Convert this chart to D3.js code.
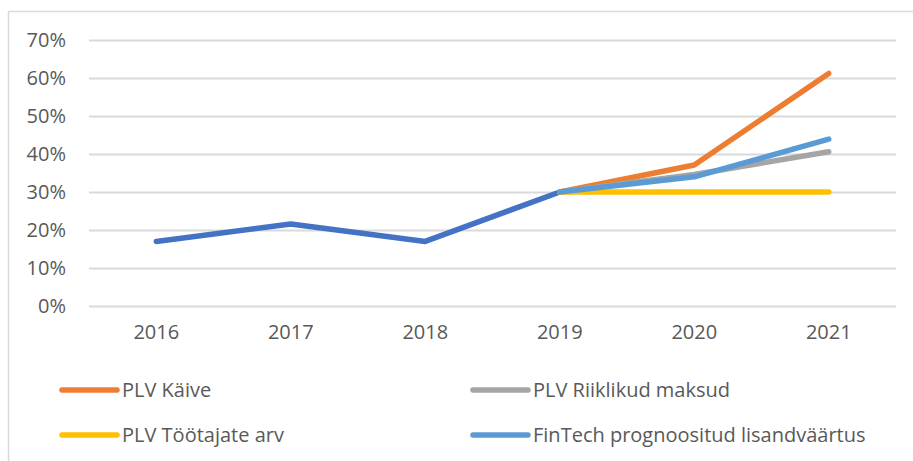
<!DOCTYPE html>
<html>
<head>
<meta charset="utf-8">
<script src="https://cdn.jsdelivr.net/npm/d3@7"></script>
<style>
  body { margin: 0; background: #fff; }
  text { font-family: "Open Sans", sans-serif; fill: #595959; }
</style>
</head>
<body>
<div id="chart"></div>
<script>
// chart data
const years = ["2016", "2017", "2018", "2019", "2020", "2021"];
const yTicks = [0, 0.1, 0.2, 0.3, 0.4, 0.5, 0.6, 0.7];
const history = [0.17, 0.216, 0.17, 0.30, null, null];
const kaive = [null, null, null, 0.30, 0.371, 0.612];
const maksud = [null, null, null, 0.30, 0.346, 0.406];
const tootajad = [null, null, null, 0.30, 0.30, 0.30];
const fintech = [null, null, null, 0.30, 0.340, 0.439];
const seriesNames = ["PLV Käive", "PLV Riiklikud maksud", "PLV Töötajate arv", "FinTech prognoositud lisandväärtus"];

const colors = {
  history: "#4472C4",
  kaive: "#ED7D31",
  maksud: "#A5A5A5",
  tootajad: "#FFC000",
  fintech: "#5B9BD5"
};

const W = 913, H = 461;
const plot = {left: 89, right: 896, top: 40, bottom: 306};
const fontSize = 20;

const svg = d3.select("#chart")
  .append("svg")
  .attr("width", W)
  .attr("height", H);

// outer frame
svg.append("rect")
  .attr("x", 8.5).attr("y", 11.5)
  .attr("width", W).attr("height", H)
  .attr("fill", "none")
  .attr("stroke", "#d9d9d9")
  .attr("stroke-width", 1.5);

const x = d3.scaleBand()
  .domain(years)
  .range([plot.left, plot.right]);

const y = d3.scaleLinear()
  .domain([0, 0.7])
  .range([plot.bottom, plot.top]);

// gridlines + y labels
const yAxis = svg.append("g")
  .attr("transform", `translate(${plot.left},0)`)
  .call(d3.axisLeft(y)
    .tickValues(yTicks)
    .tickFormat(d3.format(".0%"))
    .tickSize(-(plot.right - plot.left))
    .tickPadding(23));
yAxis.select(".domain").remove();
yAxis.selectAll(".tick line")
  .attr("stroke", "#d9d9d9")
  .attr("stroke-width", 2);
yAxis.selectAll(".tick text")
  .attr("font-size", fontSize)
  .attr("font-family", "Open Sans, sans-serif")
  .attr("fill", "#595959");

// x labels
const xAxis = svg.append("g")
  .attr("transform", `translate(0,${plot.bottom})`)
  .call(d3.axisBottom(x).tickSize(0).tickPadding(19));
xAxis.select(".domain").remove();
xAxis.selectAll(".tick text")
  .attr("font-size", fontSize)
  .attr("font-family", "Open Sans, sans-serif")
  .attr("fill", "#595959");

// lines
const line = d3.line()
  .defined(d => d.v !== null)
  .x(d => x(d.year) + x.bandwidth() / 2)
  .y(d => y(d.v));

const drawn = [
  [history, colors.history],
  [kaive, colors.kaive],
  [maksud, colors.maksud],
  [tootajad, colors.tootajad],
  [fintech, colors.fintech]
];

drawn.forEach(([vals, col]) => {
  svg.append("path")
    .datum(vals.map((v, i) => ({year: years[i], v: v})))
    .attr("d", line)
    .attr("fill", "none")
    .attr("stroke", col)
    .attr("stroke-width", 5.5)
    .attr("stroke-linecap", "round")
    .attr("stroke-linejoin", "round");
});

// legend
const legendItems = [
  {name: seriesNames[0], color: colors.kaive, x: 62, y: 390},
  {name: seriesNames[1], color: colors.maksud, x: 473, y: 390},
  {name: seriesNames[2], color: colors.tootajad, x: 62, y: 435},
  {name: seriesNames[3], color: colors.fintech, x: 473, y: 435}
];

const legend = svg.append("g");
legendItems.forEach(item => {
  legend.append("line")
    .attr("x1", item.x).attr("x2", item.x + 55)
    .attr("y1", item.y).attr("y2", item.y)
    .attr("stroke", item.color)
    .attr("stroke-width", 5.5)
    .attr("stroke-linecap", "round");
  legend.append("text")
    .attr("x", item.x + 60)
    .attr("y", item.y)
    .attr("dy", "0.35em")
    .attr("font-size", fontSize)
    .text(item.name);
});
</script>
</body>
</html>
